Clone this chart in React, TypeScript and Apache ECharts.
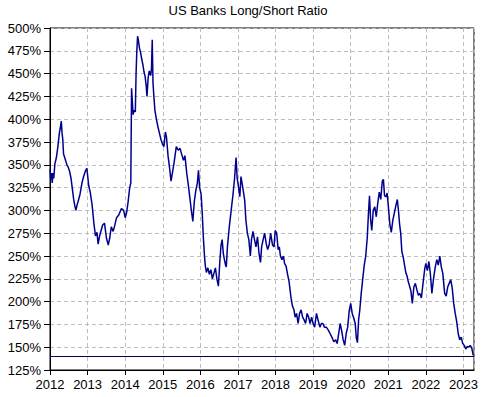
import React, { useEffect, useRef } from "react";
import * as echarts from "echarts";

const chartTitle = "US Banks Long/Short Ratio";
const yearTicks = [2012, 2013, 2014, 2015, 2016, 2017, 2018, 2019, 2020, 2021, 2022, 2023];
const thresholdLevel = 140;

// decimal years
const dates = [
  2012.00, 2012.02, 2012.04, 2012.06, 2012.08, 2012.10, 2012.13, 2012.17, 2012.21, 2012.25,
  2012.28, 2012.30, 2012.32, 2012.34, 2012.36, 2012.39, 2012.42, 2012.45, 2012.48, 2012.52,
  2012.56, 2012.60, 2012.63, 2012.66, 2012.69, 2012.72, 2012.75, 2012.80, 2012.85, 2012.90,
  2012.94, 2012.98, 2013.01, 2013.03, 2013.07, 2013.12, 2013.17, 2013.21, 2013.25, 2013.28,
  2013.32, 2013.36, 2013.40, 2013.45, 2013.50, 2013.55, 2013.59, 2013.63, 2013.68, 2013.72,
  2013.77, 2013.83, 2013.90, 2013.96, 2014.00, 2014.04, 2014.08, 2014.12, 2014.15, 2014.17,
  2014.19, 2014.21, 2014.24, 2014.27, 2014.29, 2014.31, 2014.33, 2014.35, 2014.38, 2014.41,
  2014.44, 2014.47, 2014.50, 2014.53, 2014.56, 2014.58, 2014.61, 2014.64, 2014.68, 2014.70,
  2014.72, 2014.74, 2014.76, 2014.79, 2014.83, 2014.87, 2014.91, 2014.95, 2014.99, 2015.03,
  2015.07, 2015.10, 2015.14, 2015.18, 2015.22, 2015.26, 2015.30, 2015.36, 2015.41, 2015.46,
  2015.50, 2015.55, 2015.59, 2015.64, 2015.68, 2015.72, 2015.76, 2015.80, 2015.84, 2015.88,
  2015.92, 2015.95, 2015.98, 2016.02, 2016.05, 2016.08, 2016.11, 2016.13, 2016.16, 2016.20,
  2016.24, 2016.28, 2016.32, 2016.36, 2016.40, 2016.44, 2016.48, 2016.52, 2016.55, 2016.58,
  2016.61, 2016.64, 2016.67, 2016.69, 2016.72, 2016.77, 2016.82, 2016.87, 2016.91, 2016.95,
  2016.98, 2017.02, 2017.05, 2017.08, 2017.11, 2017.14, 2017.18, 2017.21, 2017.25, 2017.29,
  2017.33, 2017.36, 2017.40, 2017.44, 2017.48, 2017.52, 2017.56, 2017.60, 2017.63, 2017.67,
  2017.71, 2017.75, 2017.79, 2017.83, 2017.87, 2017.92, 2017.96, 2017.99, 2018.03, 2018.07,
  2018.10, 2018.13, 2018.17, 2018.21, 2018.24, 2018.28, 2018.32, 2018.36, 2018.41, 2018.45,
  2018.49, 2018.52, 2018.56, 2018.60, 2018.64, 2018.68, 2018.72, 2018.76, 2018.80, 2018.84,
  2018.88, 2018.92, 2018.96, 2019.00, 2019.04, 2019.09, 2019.13, 2019.18, 2019.22, 2019.26,
  2019.30, 2019.35, 2019.40, 2019.45, 2019.50, 2019.55, 2019.60, 2019.64, 2019.68, 2019.72,
  2019.76, 2019.80, 2019.84, 2019.88, 2019.92, 2019.96, 2020.00, 2020.04, 2020.08, 2020.12,
  2020.15, 2020.18, 2020.21, 2020.24, 2020.28, 2020.32, 2020.36, 2020.40, 2020.44, 2020.47,
  2020.50, 2020.53, 2020.56, 2020.60, 2020.64, 2020.68, 2020.72, 2020.76, 2020.80, 2020.84,
  2020.87, 2020.90, 2020.94, 2020.97, 2021.00, 2021.04, 2021.08, 2021.12, 2021.16, 2021.20,
  2021.24, 2021.27, 2021.30, 2021.33, 2021.36, 2021.40, 2021.44, 2021.47, 2021.50, 2021.53,
  2021.56, 2021.60, 2021.64, 2021.68, 2021.72, 2021.76, 2021.80, 2021.84, 2021.88, 2021.93,
  2021.97, 2022.00, 2022.04, 2022.08, 2022.12, 2022.16, 2022.20, 2022.25, 2022.29, 2022.33,
  2022.37, 2022.41, 2022.45, 2022.50, 2022.54, 2022.58, 2022.62, 2022.66, 2022.70, 2022.74,
  2022.78, 2022.82, 2022.86, 2022.90, 2022.94, 2022.98, 2023.02, 2023.06, 2023.10, 2023.14,
  2023.18, 2023.22, 2023.26,
];

// long/short ratio, %
const ratios = [
  345, 334, 341, 330, 341, 335, 351, 358, 370, 385,
  392, 398, 385, 378, 362, 358, 354, 350, 348, 343,
  335, 322, 312, 305, 300, 306, 310, 318, 330, 338,
  343, 346, 335, 327, 320, 306, 285, 272, 276, 263,
  272, 278, 284, 286, 270, 262, 270, 282, 277, 283,
  292, 295, 302, 300, 292, 298, 310, 325, 330, 434,
  420, 405, 410, 408, 450, 475, 491, 487, 478, 473,
  466, 460, 452, 447, 436, 425, 445, 453, 448, 456,
  487, 440, 427, 410, 400, 392, 385, 378, 373, 370,
  386, 380, 360, 347, 332, 342, 352, 370, 366, 368,
  362, 355, 360, 340, 328, 314, 300, 288, 310, 322,
  330, 344, 325, 318, 297, 270, 250, 240, 232, 237,
  230, 235, 225, 231, 237, 225, 217, 245, 262, 268,
  253, 246, 240, 238, 260, 282, 300, 318, 335, 358,
  335, 324, 315, 337, 330, 322, 311, 290, 275, 268,
  250, 268, 277, 268, 260, 271, 253, 243, 260, 268,
  275, 264, 257, 262, 275, 262, 260, 278, 275, 257,
  260, 250, 246, 250, 242, 239, 230, 222, 205, 195,
  191, 183, 187, 176, 187, 191, 183, 180, 176, 187,
  183, 176, 183, 176, 172, 187, 180, 172, 176, 176,
  172, 172, 169, 165, 161, 156, 158, 154, 165, 176,
  168, 158, 152, 165, 172, 190, 198, 187, 182, 176,
  160, 155, 180, 190, 209, 225, 240, 250, 270, 295,
  316, 290, 278, 300, 304, 293, 308, 320, 312, 332,
  334, 316, 315, 319, 305, 285, 276, 289, 297, 305,
  312, 300, 285, 275, 255, 248, 238, 231, 228, 222,
  218, 212, 198, 216, 220, 213, 207, 209, 204, 222,
  236, 242, 234, 244, 230, 209, 224, 238, 246, 240,
  250, 238, 231, 209, 206, 216, 220, 224, 215, 198,
  187, 178, 165, 158, 161, 154, 152, 148, 151, 150,
  152, 149, 141,
];

const FONT = "'Liberation Sans', Arial, sans-serif";

export default function App() {
  const ref = useRef<HTMLDivElement>(null);

  useEffect(() => {
    if (!ref.current) return;
    const chart = echarts.init(ref.current, undefined, { renderer: "svg" });
    const data = dates.map((d, i) => [d, ratios[i]]);
    const gridLine = { show: true, lineStyle: { color: "#bcbcbc", type: [4, 3] as any, width: 1 } };
    chart.setOption({
      animation: false,
      backgroundColor: "#ffffff",
      title: {
        text: chartTitle,
        left: "center",
        top: 4,
        padding: 0,
        textStyle: { fontFamily: FONT, fontSize: 13, fontWeight: "normal", color: "#000" },
      },
      grid: {
        left: 50,
        right: 22,
        top: 28,
        bottom: 27,
        show: true,
        borderColor: "#000",
        borderWidth: 1,
        backgroundColor: "transparent",
      },
      xAxis: {
        type: "value",
        min: yearTicks[0],
        max: 2023.28,
        interval: 1,
        axisLine: { show: true, lineStyle: { color: "#000", width: 1 } },
        axisTick: { show: true, length: 5, lineStyle: { color: "#000" } },
        axisLabel: {
          color: "#000",
          fontFamily: FONT,
          fontSize: 13,
          margin: 8,
          showMaxLabel: false,
          formatter: (v: number) => (yearTicks.includes(Math.round(v * 1000) / 1000) ? String(v) : ""),
        },
        splitLine: gridLine,
      },
      yAxis: {
        type: "value",
        min: 125,
        max: 500,
        interval: 25,
        axisLine: { show: true, lineStyle: { color: "#000", width: 1 } },
        axisTick: { show: true, length: 6, lineStyle: { color: "#000" } },
        axisLabel: {
          color: "#000",
          fontFamily: FONT,
          fontSize: 13,
          margin: 9,
          formatter: "{value}%",
        },
        splitLine: gridLine,
      },
      series: [
        {
          type: "line",
          data,
          showSymbol: false,
          symbol: "none",
          lineStyle: { color: "#00008f", width: 1.5 },
          silent: true,
          markLine: {
            silent: true,
            symbol: ["none", "none"],
            label: { show: false },
            lineStyle: { color: "#000050", width: 1, type: "solid" },
            data: [{ yAxis: thresholdLevel }],
          },
        },
      ],
    });
    return () => chart.dispose();
  }, []);

  return (
    <div
      ref={ref}
      style={{ position: "fixed", left: 0, top: 0, width: 496, height: 397, background: "#fff" }}
    />
  );
}
